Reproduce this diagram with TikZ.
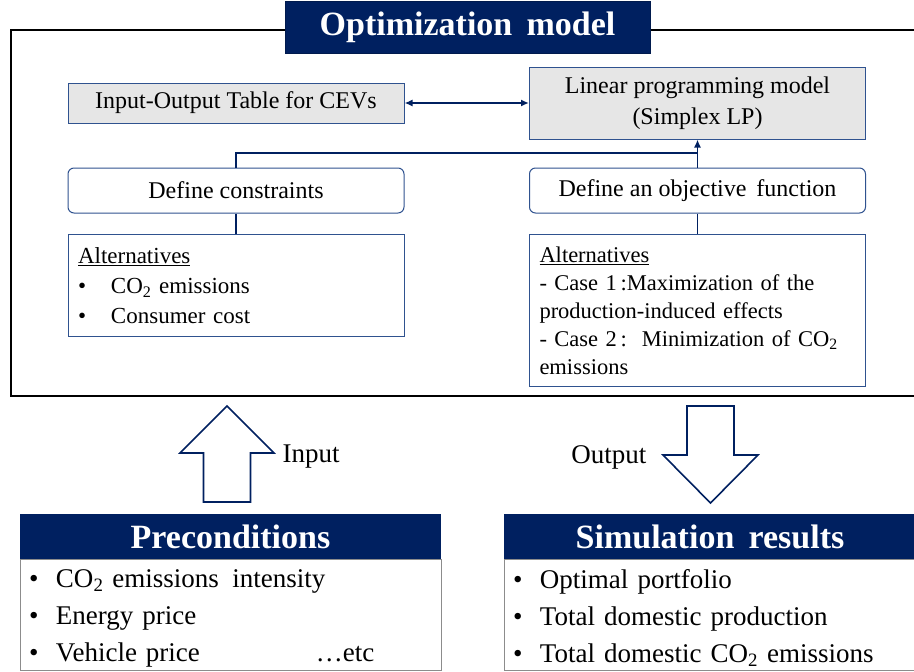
\documentclass[tikz,border=0pt]{standalone}
\usepackage{fontspec}
\setmainfont{Liberation Serif}
\usetikzlibrary{positioning,arrows.meta}
\definecolor{navy}{RGB}{0,32,96}
\definecolor{boxblue}{RGB}{47,82,143}
\definecolor{boxgray}{RGB}{230,230,230}
\newcommand{\bul}[1]{\makebox[#1][l]{\textbullet}}
\newcommand{\topline}[1]{\raisebox{0pt}[\dimexpr\height+6pt\relax]{#1}}
\begin{document}
\begin{tikzpicture}[x=1pt, y=-1pt, >={Latex[length=8pt,width=7pt]},
  head/.style={draw=navy!80!black, fill=navy, text=white, inner sep=0pt,
    font=\fontsize{34}{40}\selectfont\bfseries},
  modelbox/.style={draw=boxblue, fill=boxgray, line width=1pt, inner sep=0pt,
    minimum width=336pt, align=center, font=\fontsize{24}{31}\selectfont},
  stepbox/.style={draw=boxblue, line width=1pt, rounded corners=6pt, inner sep=0pt,
    minimum width=336pt, minimum height=45pt, font=\fontsize{24}{29}\selectfont},
  altbox/.style={draw=boxblue, line width=1pt, inner xsep=10pt, inner ysep=0pt,
    text width=316pt, align=left, anchor=north},
  listbox/.style={draw=black!45, line width=0.8pt, inner xsep=9pt, inner ysep=0pt,
    align=left, anchor=north, minimum height=111pt,
    font=\fontsize{27}{37}\selectfont},
  link/.style={draw=navy, line width=1.6pt},
  hollow/.style={draw=navy, line width=1.6pt, fill=white, line join=miter}]
\useasboundingbox (0,0) rectangle (914,672);

% optimization model frame
\node[draw, line width=2pt, inner sep=0pt, anchor=north west,
  minimum width=912pt, minimum height=366pt] (frame) at (10,29) {};
\node[head, minimum width=365pt, minimum height=52pt] (title) at (467.5,27) {Optimization\, model};

\node[modelbox, minimum height=40pt] (io) at (236,103) {Input-Output Table for CEVs};
\node[modelbox, minimum height=72pt] (lp) at (697.5,103) {Linear programming model\\(Simplex LP)};
\node[stepbox] (cons) at (236,190.5) {Define constraints};
\node[stepbox] (obj) at (697.5,190.5) {Define an objective\, function};

\node[altbox, minimum height=102pt, font=\fontsize{23}{30}\selectfont] (altcons) at (236,234)
  {\underline{Alternatives}\\
   \bul{33pt}CO\textsubscript{2} emissions\\
   \bul{33pt}Consumer cost};
\node[altbox, minimum height=152pt, font=\fontsize{22.5}{28}\selectfont] (altobj) at (697.5,234)
  {\underline{Alternatives}\\
   - Case 1\,:Maximization of the\\
   production-induced effects\\
   - Case 2\,:\ \ Minimization of CO\textsubscript{2}\\
   emissions};

\coordinate (join) at (697.5,153);
\draw[link, <->] (io) -- (lp);
\draw[link] (cons.north) |- (join);
\draw[link, ->] (obj.north) -- (lp.south);
\draw[link] (cons.south) -- (altcons.north);
\draw[link] (obj.south) -- (altobj.north);

% input / output arrows
\coordinate (intip) at (227,406);
\draw[hollow] (intip) -- ++(-47,47) -- ++(23.5,0) -- ++(0,49) -- ++(47,0)
  -- ++(0,-49) -- ++(23.5,0) -- cycle;
\node[font=\fontsize{27}{32}\selectfont, anchor=west] (inlabel) at (279,457) {Input};

\coordinate (outtop) at (687,406);
\draw[hollow] (outtop) -- ++(47,0) -- ++(0,49) -- ++(24,0) -- ++(-47.5,48)
  -- ++(-47.5,-48) -- ++(24,0) -- cycle;
\node[font=\fontsize{27}{32}\selectfont, anchor=east] (outlabel) at (650,457) {Output};

% preconditions and results
\node[head, fill=navy, minimum width=421pt, minimum height=45pt, draw=none] (precon) at (230.5,536.5) {Preconditions};
\node[listbox, text width=403pt] (preconlist) at (precon.south)
  {\topline{\bul{27pt}CO\textsubscript{2} emissions\, intensity}\\
   \bul{27pt}Energy price\\
   \bul{27pt}\makebox[260pt][l]{Vehicle price}\ldots etc};

\node[head, fill=navy, minimum width=412pt, minimum height=45pt, draw=none] (result) at (710,536.5) {Simulation\, results};
\node[listbox, text width=394pt] (resultlist) at (result.south)
  {\topline{\bul{27pt}Optimal portfolio}\\
   \bul{27pt}Total domestic production\\
   \bul{27pt}Total domestic CO\textsubscript{2} emissions};
\end{tikzpicture}
\end{document}
